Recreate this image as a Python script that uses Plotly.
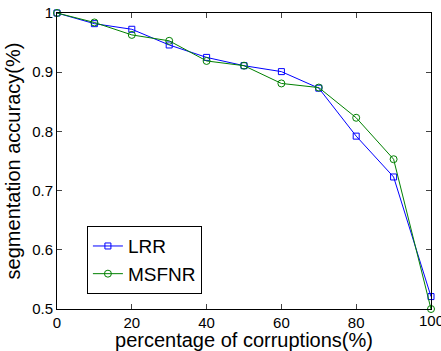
import plotly.graph_objects as go

x_vals = [0, 10, 20, 30, 40, 50, 60, 70, 80, 90, 100]
lrr = [1.0, 0.982, 0.9725, 0.946, 0.925, 0.911, 0.901, 0.873, 0.792, 0.723, 0.521]
msfnr = [1.0, 0.984, 0.963, 0.953, 0.919, 0.911, 0.881, 0.874, 0.823, 0.753, 0.500]
x_ticks = [0, 20, 40, 60, 80, 100]
y_ticks = [0.5, 0.6, 0.7, 0.8, 0.9, 1.0]
y_tick_text = ["0.5", "0.6", "0.7", "0.8", "0.9", "1"]

fig = go.Figure()
fig.add_trace(go.Scatter(x=x_vals, y=lrr, name="LRR", mode="lines+markers", cliponaxis=False,
                         line=dict(color="#0000ff", width=1),
                         marker=dict(symbol="square-open", size=6, color="#0000ff", line=dict(width=1))))
fig.add_trace(go.Scatter(x=x_vals, y=msfnr, name="MSFNR", mode="lines+markers", cliponaxis=False,
                         line=dict(color="#008000", width=1),
                         marker=dict(symbol="circle-open", size=7, color="#008000", line=dict(width=1))))

font = "Liberation Sans, Arial, sans-serif"
fig.update_layout(
    width=441, height=351,
    margin=dict(l=57, r=10, t=13, b=42, autoexpand=False),
    paper_bgcolor="white", plot_bgcolor="white",
    font=dict(family=font, color="black", size=15),
    legend=dict(x=0.08, y=0.28, xanchor="left", yanchor="top",
                bordercolor="black", borderwidth=1, bgcolor="white",
                font=dict(size=19, family=font), itemwidth=30, tracegroupgap=4),
)
fig.update_xaxes(range=[0, 100], tickvals=x_ticks, ticks="inside", ticklen=5,
                 showline=True, linecolor="black", linewidth=1, mirror="ticks",
                 showgrid=False, zeroline=False, automargin=False,
                 tickfont=dict(size=15),
                 title=dict(text="percentage of corruptions(%)", font=dict(size=20), standoff=2))
fig.update_yaxes(range=[0.5, 1.0], tickvals=y_ticks, ticktext=y_tick_text, ticks="inside", ticklen=5,
                 showline=True, linecolor="black", linewidth=1, mirror="ticks",
                 showgrid=False, zeroline=False, automargin=False,
                 tickfont=dict(size=15),
                 title=dict(text="segmentation accuracy(%)", font=dict(size=20), standoff=6))
fig.add_annotation(x=x_ticks[-1], y=0, xref="x", yref="paper", yanchor="top", xanchor="center",
                   text=str(x_ticks[-1]), showarrow=False, yshift=-1, font=dict(size=15))

fig.write_html("out.html", config={"displayModeBar": False},
               post_script="document.body.style.margin='0';document.body.style.overflow='hidden';")
